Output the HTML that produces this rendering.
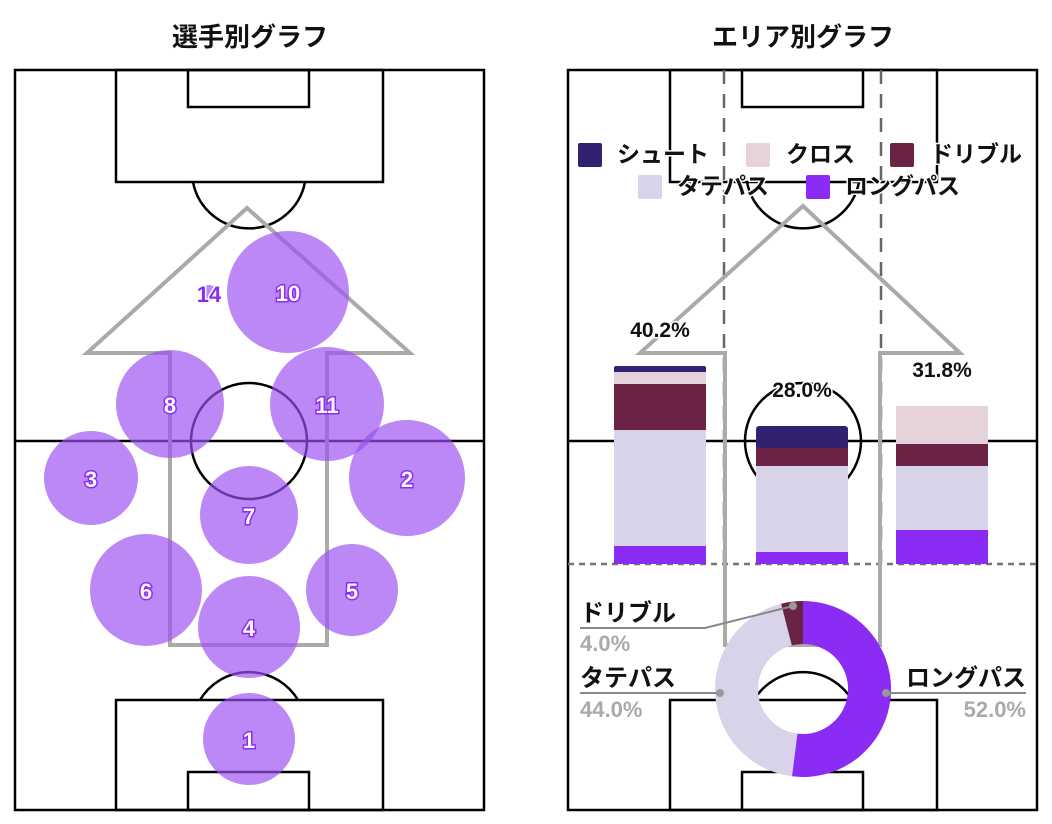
<!DOCTYPE html>
<html><head><meta charset="utf-8"><style>
html,body{margin:0;padding:0;background:#fff;}
svg{display:block;font-family:"Liberation Sans","Noto Sans CJK JP",sans-serif;}
.t{font-weight:bold;fill:#111;}
.lbl{font-weight:bold;font-size:22px;fill:#fff;stroke:#8b2cf5;stroke-width:3;paint-order:stroke;text-anchor:middle;}
</style></head><body>
<svg width="1052" height="824" viewBox="0 0 1052 824">
<text class="t" x="250" y="46" font-size="26" text-anchor="middle">選手別グラフ</text>
<text class="t" x="803" y="46" font-size="26" text-anchor="middle">エリア別グラフ</text>

<!-- LEFT PITCH -->
<g fill="none" stroke="#000" stroke-width="2.5">
<rect x="15" y="70" width="469" height="740"/>
<line x1="15" y1="441" x2="484" y2="441"/>
<circle cx="249" cy="441" r="58"/>
<rect x="116" y="70" width="267" height="112"/>
<rect x="188" y="70" width="121" height="37"/>
<path d="M193,182 A57,57 0 0 0 305,182"/>
<rect x="116" y="700" width="267" height="110"/>
<rect x="188" y="772" width="121" height="38"/>
<path d="M200,700 A57,57 0 0 1 298,700"/>
</g>
<polygon points="247,208 410,353 327,353 327,645 170,645 170,353 87,353" fill="none" stroke="#aaa" stroke-width="4"/>
<g fill="#9b4ff2" fill-opacity="0.68">
<circle cx="288" cy="292" r="61"/>
<circle cx="209" cy="293" r="8"/>
<circle cx="170" cy="404" r="54"/>
<circle cx="327" cy="404" r="57"/>
<circle cx="91" cy="478" r="47"/>
<circle cx="407" cy="478" r="58"/>
<circle cx="249" cy="515" r="49"/>
<circle cx="146" cy="590" r="56"/>
<circle cx="352" cy="590" r="46"/>
<circle cx="249" cy="627" r="51"/>
<circle cx="249" cy="739" r="46"/>
</g>
<g class="lbl">
<text x="288" y="301">10</text>
<text x="209" y="302" style="fill:#8b2cf5;stroke:#fff">14</text>
<text x="170" y="413">8</text>
<text x="327" y="413">11</text>
<text x="91" y="487">3</text>
<text x="407" y="487">2</text>
<text x="249" y="524">7</text>
<text x="146" y="599">6</text>
<text x="352" y="599">5</text>
<text x="249" y="636">4</text>
<text x="249" y="748">1</text>
</g>

<!-- RIGHT PITCH -->
<g fill="none" stroke="#000" stroke-width="2.5">
<rect x="568" y="70" width="469" height="740"/>
<line x1="568" y1="441" x2="1037" y2="441"/>
<circle cx="803" cy="441" r="58"/>
<rect x="670" y="70" width="267" height="112"/>
<rect x="742" y="70" width="121" height="37"/>
<path d="M747,182 A57,57 0 0 0 859,182"/>
<rect x="670" y="700" width="267" height="110"/>
<rect x="742" y="772" width="121" height="38"/>
<path d="M754,700 A57,57 0 0 1 852,700"/>
</g>
<g stroke="#666" stroke-width="2.5" stroke-dasharray="14,10">
<line x1="724" y1="70" x2="724" y2="564"/>
<line x1="881" y1="70" x2="881" y2="564"/>
</g>
<line x1="568" y1="564" x2="1037" y2="564" stroke="#777" stroke-width="2.5" stroke-dasharray="6,5"/>
<polygon points="803,206 960,353 880,353 880,645 725,645 725,353 640,353" fill="none" stroke="#aaa" stroke-width="4"/>

<!-- legend -->
<g class="t" font-size="23" stroke="#fff" stroke-width="3" paint-order="stroke">
<rect x="578" y="143" width="24" height="24" rx="2" fill="#312170" stroke="none"/>
<text x="617" y="162">シュート</text>
<rect x="746" y="143" width="24" height="24" rx="2" fill="#e6d2da" stroke="none"/>
<text x="786" y="162">クロス</text>
<rect x="890" y="143" width="24" height="24" rx="2" fill="#6b2345" stroke="none"/>
<text x="930" y="162">ドリブル</text>
<rect x="638" y="175" width="24" height="24" rx="2" fill="#d8d3e8" stroke="none"/>
<text x="677" y="194">タテパス</text>
<rect x="806" y="175" width="24" height="24" rx="2" fill="#8b2cf5" stroke="none"/>
<text x="845" y="194">ロングパス</text>
</g>

<!-- bars -->
<rect x="614" y="366" width="92" height="8" rx="2" fill="#312170"/>
<rect x="614" y="372" width="92" height="12" fill="#e6d2da"/>
<rect x="614" y="384" width="92" height="46" fill="#6b2345"/>
<rect x="614" y="430" width="92" height="116" fill="#d8d3e8"/>
<rect x="614" y="546" width="92" height="18" fill="#8b2cf5"/>
<rect x="756" y="426" width="92" height="24" rx="3" fill="#312170"/>
<rect x="756" y="448" width="92" height="18" fill="#6b2345"/>
<rect x="756" y="466" width="92" height="86" fill="#d8d3e8"/>
<rect x="756" y="552" width="92" height="12" fill="#8b2cf5"/>
<rect x="896" y="406" width="92" height="38" fill="#e6d2da"/>
<rect x="896" y="444" width="92" height="22" fill="#6b2345"/>
<rect x="896" y="466" width="92" height="64" fill="#d8d3e8"/>
<rect x="896" y="530" width="92" height="34" fill="#8b2cf5"/>
<g class="t" font-size="21" text-anchor="middle" stroke="#fff" stroke-width="3" paint-order="stroke">
<text x="660" y="337">40.2%</text>
<text x="802" y="397">28.0%</text>
<text x="942" y="377">31.8%</text>
</g>

<!-- donut -->
<path d="M803,601 A88,88 0 1 1 791.97,776.3 L797.36,733.64 A45,45 0 1 0 803,644 Z" fill="#8b2cf5"/>
<path d="M791.97,776.3 A88,88 0 0 1 781.1,603.76 L791.81,645.41 A45,45 0 0 0 797.36,733.64 Z" fill="#d8d3e8"/>
<path d="M781.1,603.76 A88,88 0 0 1 803,601 L803,644 A45,45 0 0 0 791.81,645.41 Z" fill="#6b2345"/>
<g stroke="#888" stroke-width="2" fill="none">
<polyline points="580,628 705,628 793,606"/>
<line x1="580" y1="693" x2="720" y2="693"/>
<line x1="886" y1="693" x2="1026" y2="693"/>
</g>
<g fill="#999"><circle cx="793" cy="606" r="4"/><circle cx="720" cy="693" r="4"/><circle cx="886" cy="693" r="4"/></g>
<text class="t" x="580" y="621" font-size="24">ドリブル</text>
<text x="580" y="651" font-size="22" font-weight="bold" fill="#aaa">4.0%</text>
<text class="t" x="580" y="686" font-size="24">タテパス</text>
<text x="580" y="717" font-size="22" font-weight="bold" fill="#aaa">44.0%</text>
<text class="t" x="1026" y="686" font-size="24" text-anchor="end">ロングパス</text>
<text x="1026" y="717" font-size="22" font-weight="bold" fill="#aaa" text-anchor="end">52.0%</text>
</svg>
</body></html>
